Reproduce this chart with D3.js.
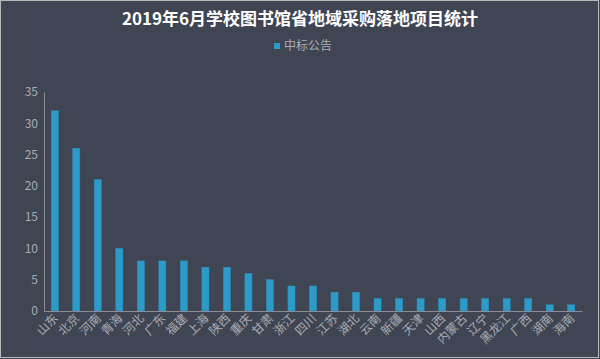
<!DOCTYPE html>
<html><head><meta charset="utf-8">
<script src="https://cdn.jsdelivr.net/npm/d3@7/dist/d3.min.js"></script>
<style>html,body{margin:0;padding:0;background:#404553;}svg{display:block;}</style>
</head><body>
<svg id="c" width="600" height="359"></svg>
<script>
const title = "2019年6月学校图书馆省地域采购落地项目统计";
const seriesName = "中标公告";
const categories = ["山东","北京","河南","青海","河北","广东","福建","上海","陕西","重庆","甘肃","浙江","四川","江苏","湖北","云南","新疆","天津","山西","内蒙古","辽宁","黑龙江","广西","湖南","海南"];
const values = [32,26,21,10,8,8,8,7,7,6,5,4,4,3,3,2,2,2,2,2,2,2,2,1,1];
const yTicks = [0,5,10,15,20,25,30,35];

(function(){
const font = "'Noto Sans CJK SC','Noto Sans',sans-serif";
const svg = d3.select("#c");
svg.append("rect").attr("x",0.5).attr("y",0.5).attr("width",598).attr("height",357)
  .attr("fill","#404553").attr("stroke","#b8b8b8").attr("stroke-width",1);

svg.append("text").attr("x",300).attr("y",25).attr("text-anchor","middle")
  .attr("font-family",font).attr("font-weight","bold").attr("font-size",17)
  .attr("fill","#ffffff").text(title);

svg.append("rect").attr("x",274).attr("y",43).attr("width",6).attr("height",6).attr("fill","#2d9bca");
svg.append("text").attr("x",284).attr("y",50).attr("font-family",font).attr("font-size",12)
  .attr("fill","#a9acb4").text(seriesName);

const mLeft=44, mRight=582, mTop=92, mBottom=311;
const x = d3.scaleBand().domain(categories).range([mLeft,mRight]).paddingInner(0.67).paddingOuter(0.335);
const y = d3.scaleLinear().domain([0,35]).range([mBottom,mTop]);

svg.append("g").selectAll("rect").data(values).join("rect")
  .attr("x",(d,i)=>x(categories[i])).attr("width",x.bandwidth())
  .attr("y",d=>y(d)).attr("height",d=>y(0)-y(d))
  .attr("fill","#2d9bca").attr("stroke","#2a8fbb").attr("stroke-width",0.5);

const ya = svg.append("g").attr("transform",`translate(${mLeft},0)`)
  .call(d3.axisLeft(y).tickValues(yTicks).tickSize(0).tickPadding(6));
ya.select(".domain").attr("stroke","#8a8d95");
ya.selectAll("text").attr("font-family",font).attr("font-size",12).attr("fill","#a9acb4");

const xa = svg.append("g").attr("transform",`translate(0,${mBottom})`)
  .call(d3.axisBottom(x).tickSize(0).tickPadding(0));
xa.select(".domain").attr("stroke","#8a8d95");
xa.selectAll("text").attr("font-family",font).attr("font-size",12).attr("fill","#a9acb4")
  .attr("text-anchor","end").attr("dy",0)
  .attr("transform","translate(4,8) rotate(-45)");
})();
</script>
</body></html>
